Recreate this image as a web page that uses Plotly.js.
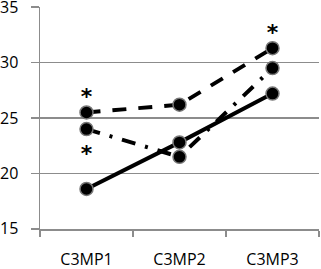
<!DOCTYPE html>
<html>
<head>
<meta charset="utf-8">
<script src="https://cdn.plot.ly/plotly-3.0.1.min.js"></script>
<style>html,body{margin:0;padding:0;background:#fff;} #chart{width:321px;height:269px;}</style>
</head>
<body>
<div id="chart"></div>
<script>
var categories = ["C3MP1", "C3MP2", "C3MP3"];
var solidValues = [18.6, 22.8, 27.2];
var dashValues = [25.5, 26.2, 31.3];
var dashDotValues = [24.0, 21.5, 29.5];
var sigCategories = ["C3MP1", "C3MP1", "C3MP3"];
var sigValues = [26.8, 21.6, 32.5];
var yTickVals = [15, 20, 25, 30, 35];

var marker = {symbol: "circle", size: 13, color: "#000", line: {color: "#777", width: 1.5}};
function series(vals, dash) {
  return {x: categories, y: vals, type: "scatter", mode: "lines+markers",
    line: {color: "#000", width: 4, dash: dash}, marker: marker, hoverinfo: "none"};
}
var traces = [
  series(dashDotValues, "14px,10px,3px,10px"),
  series(dashValues, "14px,12px"),
  series(solidValues, "solid"),
  {x: sigCategories, y: sigValues, type: "scatter", mode: "text", text: ["*", "*", "*"],
   textposition: "middle center", textfont: {family: "DejaVu Sans", size: 22, color: "#000", weight: "bold"}, hoverinfo: "none"}
];
var layout = {
  width: 321, height: 269,
  margin: {l: 40, r: 2, t: 7, b: 40},
  showlegend: false,
  paper_bgcolor: "#fff", plot_bgcolor: "#fff",
  font: {family: "Open Sans", size: 16, color: "#000"},
  xaxis: {type: "category", range: [-0.5, 2.5], tickson: "boundaries", ticks: "outside", ticklen: 6, tickwidth: 1.5,
    tickcolor: "#8c8c8c", showline: true, linecolor: "#8c8c8c", linewidth: 1.5, showgrid: false,
    ticklabelstandoff: 15, ticklabeloverflow: "allow", tickfont: {family: "Open Sans", size: 16, color: "#000"}, fixedrange: true},
  yaxis: {range: [14.99, 35.01], tickmode: "array", tickvals: yTickVals, ticks: "outside", ticklen: 8,
    tickwidth: 1.5, tickcolor: "#8c8c8c", showline: true, linecolor: "#8c8c8c", linewidth: 1.5,
    showgrid: true, gridcolor: "#8c8c8c", gridwidth: 1.5, zeroline: false, ticklabelstandoff: 9,
    ticklabeloverflow: "allow", tickfont: {family: "Open Sans", size: 16, color: "#000"}, fixedrange: true}
};
Plotly.newPlot("chart", traces, layout, {staticPlot: true, displayModeBar: false});
</script>
</body>
</html>
